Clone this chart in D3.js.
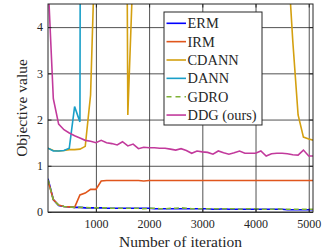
<!DOCTYPE html>
<html>
<head>
<meta charset="utf-8">
<script src="https://cdn.jsdelivr.net/npm/d3@7"></script>
<style>
  body { margin: 0; background: #fff; }
  svg text { font-family: "Liberation Serif", "Times New Roman", serif; fill: #262626; }
</style>
</head>
<body>
<script>
// iterations (x values)
var iters = [100,200,300,400,500,600,700,800,900,1000,
  1100,1200,1300,1400,1500,1600,1700,1800,1900,2000,
  2100,2200,2300,2400,2500,2600,2700,2800,2900,3000,
  3100,3200,3300,3400,3500,3600,3700,3800,3900,4000,
  4100,4200,4300,4400,4500,4600,4700,4800,4900,5000,5100];

var erm = [0.72,0.27,0.14,0.12,0.11,0.10,0.10,0.09,0.09,0.09,
  0.09,0.08,0.08,0.08,0.08,0.08,0.08,0.08,0.08,0.08,
  0.07,0.07,0.07,0.07,0.07,0.07,0.07,0.07,0.07,0.07,
  0.07,0.06,0.06,0.07,0.06,0.06,0.06,0.06,0.06,0.06,
  0.06,0.06,0.06,0.06,0.06,0.05,0.05,0.05,0.05,0.05,0.05];

var irm = [0.68,0.27,0.15,0.12,0.11,0.10,0.37,0.41,0.49,0.49,
  0.67,0.68,0.68,0.68,0.68,0.68,0.68,0.68,0.67,0.68,
  0.68,0.68,0.68,0.68,0.68,0.68,0.68,0.68,0.68,0.68,
  0.68,0.68,0.68,0.68,0.68,0.68,0.68,0.68,0.68,0.68,
  0.68,0.68,0.68,0.68,0.68,0.68,0.68,0.68,0.68,0.68,0.68];

var cdann = [1.38,1.33,1.32,1.33,1.35,1.35,1.36,1.42,2.53,6.4,
  12,15,18,20,26,2.1,5.3,15,20,22,
  25,25,25,25,25,25,25,25,25,25,
  25,25,25,25,25,25,25,25,25,25,
  25,25,25,25,25,5.6,3.7,2.1,1.62,1.58,1.55];

var dann = [1.38,1.32,1.32,1.33,1.38,2.28,1.95,60,60,60,
  60,60,60,60,60,60,60,60,60,60,
  60,60,60,60,60,60,60,60,60,60,
  60,60,60,60,60,60,60,60,60,60,
  60,60,60,60,60,60,60,60,60,60,60];

var gdro = [0.70,0.26,0.15,0.12,0.11,0.10,0.10,0.10,0.09,0.09,
  0.09,0.09,0.08,0.08,0.08,0.08,0.08,0.08,0.07,0.08,
  0.08,0.07,0.07,0.08,0.08,0.09,0.08,0.07,0.07,0.07,
  0.07,0.07,0.07,0.07,0.07,0.07,0.06,0.07,0.07,0.07,
  0.06,0.06,0.06,0.07,0.06,0.06,0.06,0.06,0.06,0.06,0.06];

var ddg = [5.0,2.45,1.9,1.78,1.71,1.65,1.6,1.55,1.53,1.5,
  1.55,1.5,1.48,1.45,1.52,1.43,1.47,1.37,1.40,1.39,
  1.39,1.38,1.38,1.36,1.34,1.37,1.33,1.27,1.32,1.30,
  1.29,1.25,1.32,1.28,1.25,1.28,1.32,1.27,1.27,1.27,
  1.32,1.21,1.26,1.27,1.27,1.26,1.24,1.23,1.34,1.21,1.21];

var seriesNames = ["ERM", "IRM", "CDANN", "DANN", "GDRO", "DDG (ours)"];
var seriesValues = [erm, irm, cdann, dann, gdro, ddg];
var seriesColors = ["#0000ff", "#e0561c", "#d4a010", "#1a9fc8", "#7fb236", "#c23a9c"];
var xTicks = [1000, 2000, 3000, 4000, 5000];
var yTicks = [0, 1, 2, 3, 4];

var W = 326, H = 252;
var margin = { top: 4, right: 13, bottom: 40, left: 48 },
  width = W - margin.left - margin.right,
  height = H - margin.top - margin.bottom;

var svg = d3.select("body").append("svg")
  .attr("width", W)
  .attr("height", H);

var g = svg.append("g")
  .attr("transform", "translate(" + margin.left + "," + margin.top + ")");

var x = d3.scaleLinear().domain([100, 5080]).range([0, width]);
var y = d3.scaleLinear().domain([0, 4.5]).range([height, 0]);

// grid
g.append("g")
  .attr("transform", "translate(0," + height + ")")
  .call(d3.axisBottom(x).tickValues(xTicks).tickSize(-height).tickFormat(""))
  .call(a => a.select(".domain").remove())
  .selectAll("line").attr("stroke", "#dedede").attr("stroke-width", 0.8);
g.append("g")
  .call(d3.axisLeft(y).tickValues(yTicks).tickSize(-width).tickFormat(""))
  .call(a => a.select(".domain").remove())
  .selectAll("line").attr("stroke", "#dedede").attr("stroke-width", 0.8);

// clip
svg.append("clipPath").attr("id", "clip")
  .append("rect").attr("width", width).attr("height", height);

var line = d3.line()
  .x(function (d, i) { return x(iters[i]); })
  .y(function (d) { return y(d); });

var plot = g.append("g").attr("clip-path", "url(#clip)");
seriesValues.forEach(function (vals, k) {
  plot.append("path")
    .datum(vals)
    .attr("fill", "none")
    .attr("stroke", seriesColors[k])
    .attr("stroke-width", 1.6)
    .attr("stroke-dasharray", seriesNames[k] == "GDRO" ? "5,3" : null)
    .attr("d", line);
});

// axes with inward ticks
var tick = 3.5;
var xAxis = g.append("g")
  .attr("transform", "translate(0," + height + ")")
  .call(d3.axisBottom(x).tickValues(xTicks).tickFormat(d3.format("d"))
    .tickSizeInner(-tick).tickSizeOuter(0).tickPadding(7));
var yAxis = g.append("g")
  .call(d3.axisLeft(y).tickValues(yTicks).tickFormat(d3.format("d"))
    .tickSizeInner(-tick).tickSizeOuter(0).tickPadding(5));
g.append("g")
  .call(d3.axisTop(x).tickValues(xTicks).tickSizeInner(-tick).tickSizeOuter(0).tickFormat(""));
g.append("g")
  .attr("transform", "translate(" + width + ",0)")
  .call(d3.axisRight(y).tickValues(yTicks).tickSizeInner(-tick).tickSizeOuter(0).tickFormat(""));

g.selectAll(".tick text")
  .style("font-size", "12px")
  .style("font-family", "'Liberation Serif', 'Times New Roman', serif");
g.selectAll(".tick line").attr("stroke", "#262626");
g.selectAll(".domain").remove();

// box
g.append("rect")
  .attr("width", width).attr("height", height)
  .attr("fill", "none").attr("stroke", "#262626").attr("stroke-width", 1);

// axis titles
svg.append("text")
  .attr("text-anchor", "middle")
  .attr("x", margin.left + width / 2)
  .attr("y", 247)
  .style("font-size", "15.5px")
  .text("Number of iteration");

svg.append("text")
  .attr("text-anchor", "middle")
  .attr("transform", "rotate(-90)")
  .attr("x", -(margin.top + height / 2))
  .attr("y", 27)
  .style("font-size", "15.5px")
  .text("Objective value");

// legend
var lg = svg.append("g").attr("transform", "translate(164,12)");
lg.append("rect")
  .attr("width", 98).attr("height", 113)
  .attr("fill", "#fff").attr("stroke", "#262626").attr("stroke-width", 1);
seriesNames.forEach(function (name, k) {
  var yy = 11.3 + k * 18.35;
  lg.append("line")
    .attr("x1", 2.5).attr("x2", 22)
    .attr("y1", yy).attr("y2", yy)
    .attr("stroke", seriesColors[k])
    .attr("stroke-width", 1.6)
    .attr("stroke-dasharray", name == "GDRO" ? "5,4" : null);
  lg.append("text")
    .attr("x", 23.5).attr("y", yy + 5)
    .style("font-size", "14.4px")
    .text(name);
});
</script>
</body>
</html>
